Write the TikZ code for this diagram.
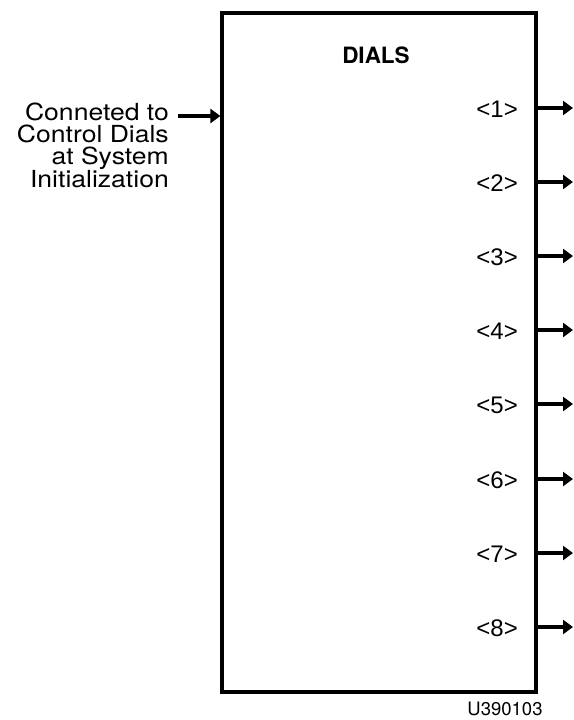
\documentclass[tikz,border=0pt]{standalone}
\usepackage{fontspec}
\setmainfont{TeX Gyre Heros}
\newfontfamily\widefont[FakeStretch=1.13]{TeX Gyre Heros}
\newfontfamily\pinfont{Liberation Sans}
\usetikzlibrary{arrows.meta}

\begin{document}
\begin{tikzpicture}[x=1pt,y=-1pt,
  font=\fontsize{24}{26}\selectfont,
  blk/.style={draw,line width=3.2pt,minimum width=314pt,minimum height=679pt,inner sep=0pt},
  sig/.style={line width=3.2pt,-{Triangle[length=10pt,width=14pt]}},
  pin/.style={anchor=east,inner sep=0pt,font=\pinfont\fontsize{24}{26}\selectfont},
  ttl/.style={font=\fontsize{22.5}{26}\selectfont\bfseries},
  note/.style={font=\widefont\fontsize{23.5}{22}\selectfont,align=right,inner sep=0pt},
  tag/.style={font=\fontsize{18.5}{22}\selectfont,inner sep=0pt},
]
\useasboundingbox (0,0) rectangle (573,720);

\node[blk] (dials) at (379,352.5) {};
\node[ttl] (name) at (376,55) {DIALS};

% input
\node[note,anchor=north east] (info) at (169,102.5)
  {Conneted to\\Control Dials\\at System\\Initialization};
\coordinate (src) at (178,116);
\draw[sig] (src) -- (dials.west |- src);

% outputs
\coordinate (o1) at (573,108);
\coordinate (o2) at (573,182);
\coordinate (o3) at (573,256);
\coordinate (o4) at (573,330);
\coordinate (o5) at (573,404);
\coordinate (o6) at (573,479);
\coordinate (o7) at (573,553);
\coordinate (o8) at (573,627);
\draw[sig] (dials.east |- o1) -- (o1);
\draw[sig] (dials.east |- o2) -- (o2);
\draw[sig] (dials.east |- o3) -- (o3);
\draw[sig] (dials.east |- o4) -- (o4);
\draw[sig] (dials.east |- o5) -- (o5);
\draw[sig] (dials.east |- o6) -- (o6);
\draw[sig] (dials.east |- o7) -- (o7);
\draw[sig] (dials.east |- o8) -- (o8);
\node[pin] (l1) at (518,109) {<1>};
\node[pin] (l2) at (518,183) {<2>};
\node[pin] (l3) at (518,257) {<3>};
\node[pin] (l4) at (518,331) {<4>};
\node[pin] (l5) at (518,405) {<5>};
\node[pin] (l6) at (518,480) {<6>};
\node[pin] (l7) at (518,554) {<7>};
\node[pin] (l8) at (518,628) {<8>};

\node[tag] (code) at (505,709) {U390103};
\end{tikzpicture}
\end{document}
